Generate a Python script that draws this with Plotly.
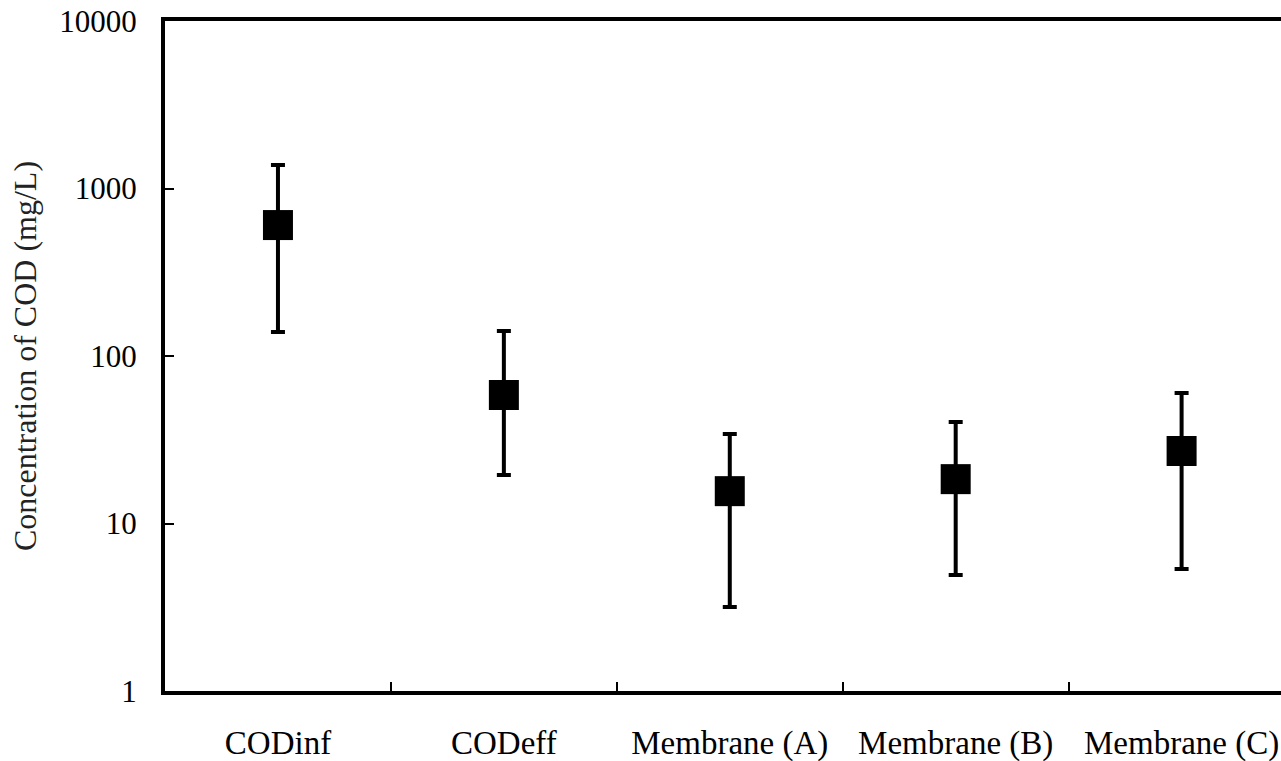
import plotly.graph_objects as go

# COD concentrations (mg/L): mean with min/max range
categories = ["CODinf", "CODeff", "Membrane (A)", "Membrane (B)", "Membrane (C)"]
cod_mean = [605, 58.5, 15.6, 18.4, 27.1]
cod_max = [1380, 141, 34.2, 40.4, 60.1]
cod_min = [139, 19.5, 3.17, 4.93, 5.35]

y_tick_vals = [1, 10, 100, 1000, 10000]
y_tick_text = ["1", "10", "100", "1000", "10000"]

err_plus = [hi - m for hi, m in zip(cod_max, cod_mean)]
err_minus = [m - lo for m, lo in zip(cod_mean, cod_min)]

serif = "Liberation Serif, Times New Roman, serif"

fig = go.Figure()
fig.add_trace(go.Scatter(
    x=categories,
    y=cod_mean,
    mode="markers",
    marker=dict(symbol="square", size=30, color="black"),
    error_y=dict(
        type="data",
        symmetric=False,
        array=err_plus,
        arrayminus=err_minus,
        thickness=4,
        width=7,
        color="black",
    ),
    showlegend=False,
))

fig.update_layout(
    width=1281,
    height=761,
    margin=dict(l=165, r=0, t=21, b=70),
    paper_bgcolor="white",
    plot_bgcolor="white",
    font=dict(family=serif, color="black"),
)

fig.update_xaxes(
    type="category",
    range=[-0.5, 4.44],
    showline=True,
    linecolor="black",
    linewidth=4,
    mirror=True,
    showgrid=False,
    zeroline=False,
    ticks="inside",
    tickson="boundaries",
    ticklen=9,
    tickwidth=2,
    tickcolor="black",
    tickfont=dict(family=serif, size=33, color="black"),
    ticklabelstandoff=19,
)

fig.update_yaxes(
    type="log",
    range=[0, 4],
    tickvals=y_tick_vals,
    ticktext=y_tick_text,
    showline=True,
    linecolor="black",
    linewidth=4,
    showgrid=False,
    zeroline=False,
    ticks="inside",
    ticklen=9,
    tickwidth=2,
    tickcolor="black",
    tickfont=dict(family=serif, size=31, color="black"),
    ticklabelstandoff=18,
    title=dict(
        text="Concentration of COD (mg/L)",
        font=dict(family=serif, size=32, color="#222"),
        standoff=14,
    ),
)

fig.write_html("out.html")
